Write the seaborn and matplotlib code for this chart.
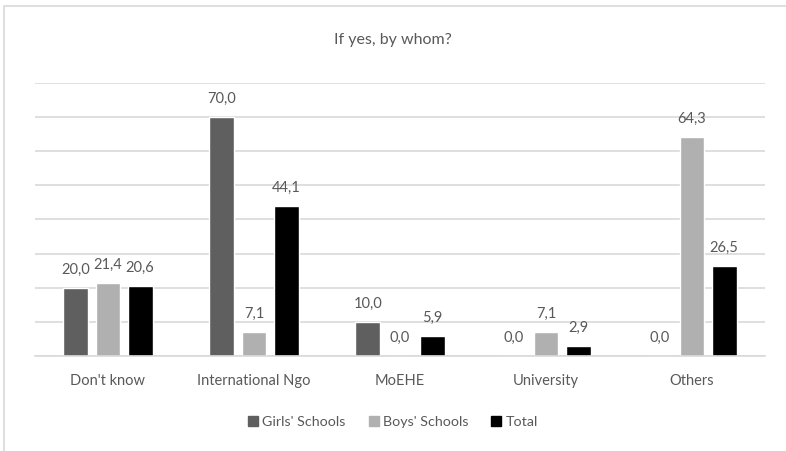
import matplotlib
matplotlib.use("Agg")
import matplotlib.pyplot as plt
import seaborn as sns
import pandas as pd
from matplotlib.patches import Rectangle

categories = ["Don't know", "International Ngo", "MoEHE", "University", "Others"]
series_names = ["Girls' Schools", "Boys' Schools", "Total"]
girls = [20.0, 70.0, 10.0, 0.0, 0.0]
boys = [21.4, 7.1, 0.0, 7.1, 64.3]
total = [20.6, 44.1, 5.9, 2.9, 26.5]
colors = ["#5f5f5f", "#b0b0b0", "#000000"]

rows = []
for name, vals in zip(series_names, [girls, boys, total]):
    for cat, v in zip(categories, vals):
        rows.append({"category": cat, "series": name, "value": v})
df = pd.DataFrame(rows)

sns.set_theme(style="white")
plt.rcParams["font.family"] = ["Lato", "DejaVu Sans"]
text_color = "#595959"

fig = plt.figure(figsize=(7.86, 4.51), dpi=100)
ax = fig.add_axes([35 / 786, 1 - 356 / 451, 730 / 786, (356 - 83) / 451])

sns.barplot(data=df, x="category", y="value", hue="series", order=categories,
            hue_order=series_names, palette=colors, width=0.658, gap=0.22,
            saturation=1, ax=ax, legend=False)

ax.set_ylim(0, 80)
ax.set_xlim(-0.5, len(categories) - 0.5)
ax.set_yticks(range(0, 81, 10))
ax.yaxis.grid(True, color="#d9d9d9", linewidth=1.2)
ax.set_axisbelow(True)
ax.set_yticklabels([])
ax.tick_params(axis="y", length=0)
ax.tick_params(axis="x", length=0, pad=13, labelsize=10.5, labelcolor=text_color)
for s in ["top", "right", "left"]:
    ax.spines[s].set_visible(False)
ax.spines["bottom"].set_color("#d9d9d9")
ax.spines["bottom"].set_linewidth(1.2)
ax.set_xlabel("")
ax.set_ylabel("")

for container in ax.containers:
    ax.bar_label(container, labels=[f"{b.get_height():.1f}".replace(".", ",")
                                    for b in container],
                 padding=8, fontsize=10.5, color=text_color)

fig.text(0.5, 1 - 40 / 451, "If yes, by whom?", ha="center", va="center",
         fontsize=11.5, color=text_color)

handles = [Rectangle((0, 0), 1, 1, color=c) for c in colors]
fig.legend(handles, series_names, loc="center", bbox_to_anchor=(0.5, 1 - 422 / 451),
           ncol=3, frameon=False, fontsize=10.3, labelcolor=text_color,
           handlelength=0.7, handleheight=0.7, handletextpad=0.3, columnspacing=1.6)

fig.patches.append(Rectangle((4 / 786, -0.1), 1.2, 1 - 6 / 451 + 0.1,
                             transform=fig.transFigure, fill=False,
                             edgecolor="#d9d9d9", linewidth=1.2))

fig.savefig("out.png", dpi=100)
